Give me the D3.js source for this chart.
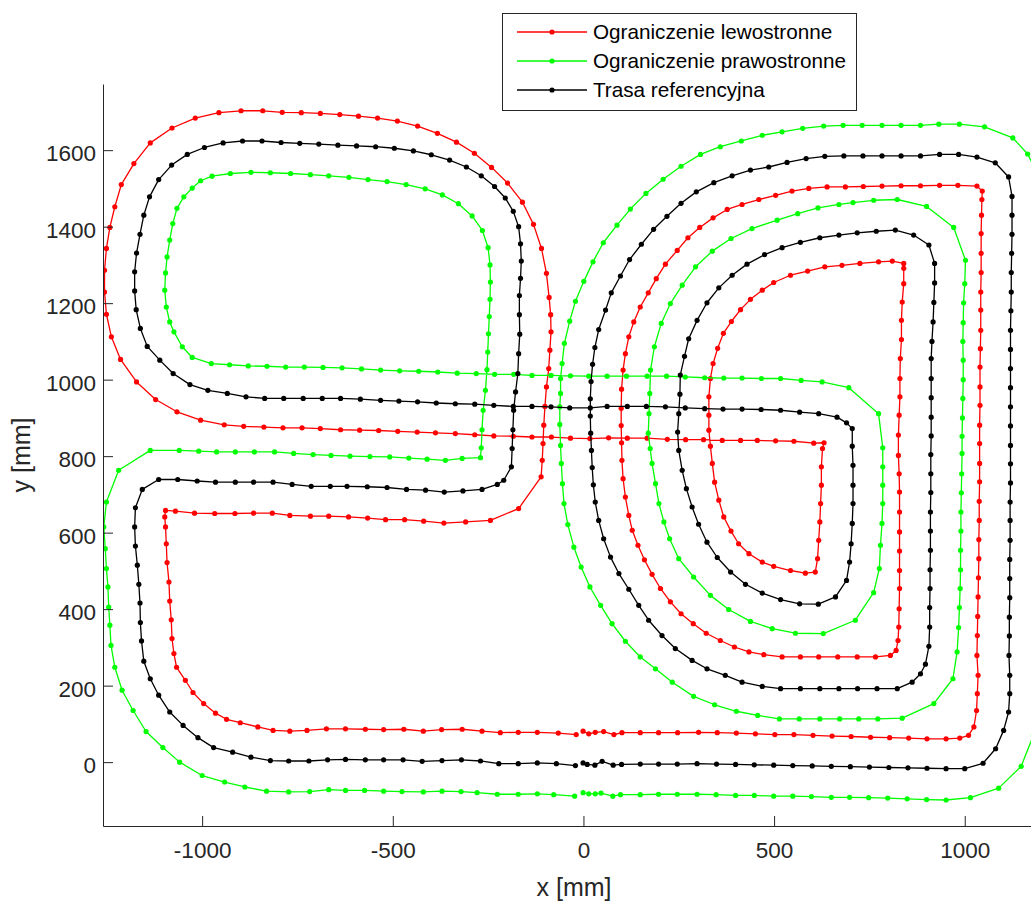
<!DOCTYPE html>
<html>
<head>
<meta charset="utf-8">
<script src="https://cdn.jsdelivr.net/npm/d3@7"></script>
<style>
  body { margin: 0; background: #ffffff; }
  svg { display: block; }
</style>
</head>
<body>
<svg id="chart" width="1031" height="902"></svg>
<script>
// Series labels and colours (legend order = drawing order)
const seriesNames = ["Ograniczenie lewostronne", "Ograniczenie prawostronne", "Trasa referencyjna"];
const seriesColors = ["#ff0000", "#00ff00", "#000000"];

// Left track boundary [x mm, y mm]
const leftBound = [
  [-1,81],[14,74],[31,78],[53,80],[80,72],[101,77],[149,77],[197,77],[247,77],[302,78],[351,77],[401,76],[451,74],[502,72],[552,72],[602,70],[652,68],[702,67],[753,65],[803,64],[853,63],[901,61],[951,61],[987,63],[1010,70],[1024,92],[1031,135],[1033,179],[1035,227],[1032,279],[1033,331],[1034,381],[1035,432],[1036,482],[1037,532],[1037,582],[1038,632],[1038,682],[1039,733],[1039,781],[1039,833],[1039,881],[1040,933],[1040,981],[1040,1033],[1041,1081],[1042,1129],[1042,1182],[1042,1229],[1043,1280],[1043,1330],[1043,1382],[1044,1430],[1045,1471],[1046,1493],[1032,1506],[982,1508],[934,1508],[884,1507],[833,1507],[783,1506],[734,1505],[687,1504],[639,1504],[591,1500],[547,1493],[504,1482],[460,1471],[416,1458],[377,1445],[340,1423],[305,1398],[274,1371],[246,1338],[215,1302],[191,1264],[170,1227],[149,1190],[132,1151],[119,1112],[110,1068],[104,1025],[100,975],[99,925],[99,880],[100,835],[101,789],[104,741],[110,693],[119,645],[128,606],[143,567],[160,529],[180,491],[202,454],[228,419],[256,388],[288,362],[322,337],[359,318],[396,301],[434,288],[473,281],[521,275],[569,275],[617,275],[667,275],[718,275],[766,275],[805,279],[820,292],[825,318],[827,353],[828,401],[829,454],[829,501],[829,552],[829,602],[829,654],[829,706],[828,754],[826,802],[826,855],[828,907],[830,955],[830,1003],[831,1055],[834,1105],[834,1155],[836,1203],[840,1251],[840,1291],[840,1304],[810,1310],[774,1308],[725,1304],[678,1299],[633,1295],[588,1284],[543,1273],[499,1254],[469,1234],[438,1210],[412,1183],[388,1152],[367,1121],[352,1082],[340,1042],[333,1003],[329,955],[329,907],[329,868],[333,826],[338,781],[344,732],[355,685],[368,641],[387,604],[407,571],[434,545],[469,523],[499,512],[543,501],[582,494],[608,497],[614,532],[617,580],[620,628],[622,676],[624,724],[624,772],[627,820],[631,835],[604,834],[552,839],[504,840],[456,841],[412,841],[364,841],[315,843],[268,843],[220,844],[167,847],[115,847],[66,848],[17,846],[-34,847],[-84,850],[-135,850],[-184,852],[-235,853],[-285,856],[-336,859],[-388,861],[-436,863],[-487,865],[-537,867],[-587,868],[-637,869],[-690,872],[-738,874],[-788,874],[-838,876],[-891,878],[-942,882],[-1004,894],[-1066,916],[-1122,948],[-1172,994],[-1214,1053],[-1238,1112],[-1251,1171],[-1256,1229],[-1256,1286],[-1251,1343],[-1242,1398],[-1229,1452],[-1212,1510],[-1179,1565],[-1136,1619],[-1079,1658],[-1018,1684],[-956,1698],[-898,1703],[-841,1703],[-790,1699],[-740,1698],[-690,1696],[-639,1693],[-590,1689],[-540,1684],[-488,1676],[-435,1663],[-383,1644],[-333,1621],[-286,1592],[-241,1555],[-199,1514],[-160,1464],[-131,1406],[-110,1343],[-97,1278],[-90,1215],[-86,1170],[-85,1125],[-88,1077],[-91,1029],[-97,981],[-101,930],[-104,881],[-106,833],[-108,789],[-111,746],[-170,663],[-244,632],[-309,628],[-366,625],[-419,630],[-469,634],[-519,634],[-566,638],[-616,641],[-668,643],[-716,643],[-770,645],[-816,651],[-865,651],[-914,650],[-967,650],[-1020,651],[-1070,656],[-1096,658],[-1098,641],[-1096,615],[-1094,571],[-1092,522],[-1087,471],[-1085,421],[-1081,372],[-1079,323],[-1074,284],[-1067,248],[-1044,214],[-1024,182],[-996,153],[-965,128],[-936,112],[-900,103],[-854,92],[-814,83],[-770,81],[-725,83],[-674,87],[-624,87],[-572,86],[-524,85],[-471,86],[-420,81],[-372,85],[-318,86],[-266,81],[-218,77],[-171,78],[-121,78],[-66,76],[-19,72]
];

// Right track boundary [x mm, y mm]
const rightBound = [
  [-1,-80],[14,-83],[31,-83],[46,-81],[77,-89],[97,-85],[149,-85],[197,-84],[246,-84],[298,-84],[348,-85],[399,-87],[448,-87],[499,-89],[549,-89],[598,-90],[650,-92],[698,-92],[748,-93],[798,-94],[849,-96],[900,-98],[951,-99],[1015,-93],[1089,-68],[1148,-11],[1180,70],[1200,150],[1205,250],[1207,400],[1208,600],[1208,800],[1208,1000],[1208,1200],[1207,1400],[1195,1530],[1165,1590],[1126,1632],[1052,1661],[986,1668],[932,1668],[884,1665],[833,1665],[783,1665],[731,1665],[681,1665],[630,1663],[575,1657],[521,1648],[469,1639],[414,1624],[359,1609],[307,1589],[256,1558],[209,1524],[164,1487],[123,1446],[88,1404],[52,1358],[25,1308],[1,1257],[-21,1205],[-36,1153],[-50,1095],[-56,1042],[-60,1003],[-60,964],[-62,929],[-62,883],[-60,828],[-58,781],[-55,728],[-51,676],[-41,621],[-25,562],[-6,510],[17,458],[45,410],[75,362],[110,316],[149,275],[189,244],[233,209],[289,172],[344,150],[401,133],[457,122],[514,113],[566,113],[620,113],[672,113],[722,113],[772,113],[836,115],[919,153],[969,218],[980,288],[984,352],[986,404],[988,454],[989,503],[989,554],[990,604],[990,654],[991,704],[992,754],[993,807],[993,852],[994,900],[995,951],[996,1000],[996,1051],[995,1100],[996,1149],[997,1201],[1000,1251],[1002,1312],[971,1398],[900,1453],[823,1471],[761,1469],[707,1463],[670,1458],[615,1449],[562,1434],[508,1417],[442,1395],[387,1369],[338,1336],[294,1295],[259,1247],[228,1199],[204,1147],[186,1086],[176,1025],[174,964],[172,911],[170,860],[175,820],[180,781],[189,728],[198,676],[211,628],[226,584],[250,532],[289,484],[333,436],[381,399],[438,368],[495,349],[556,337],[629,336],[713,371],[761,443],[776,506],[779,567],[783,624],[785,676],[785,724],[785,772],[785,822],[774,911],[696,979],[626,994],[571,998],[517,1003],[467,1003],[416,1004],[368,1004],[318,1005],[267,1007],[218,1009],[167,1009],[113,1009],[62,1009],[14,1009],[-34,1010],[-85,1011],[-135,1011],[-183,1014],[-233,1014],[-281,1016],[-331,1017],[-382,1020],[-432,1022],[-482,1023],[-532,1025],[-582,1028],[-633,1031],[-683,1032],[-732,1033],[-781,1033],[-830,1035],[-879,1036],[-928,1039],[-976,1042],[-1026,1058],[-1052,1086],[-1074,1125],[-1085,1151],[-1094,1190],[-1098,1234],[-1096,1279],[-1092,1321],[-1085,1365],[-1077,1408],[-1066,1448],[-1048,1478],[-1026,1501],[-1004,1520],[-974,1532],[-926,1539],[-872,1542],[-821,1541],[-768,1539],[-716,1536],[-668,1533],[-615,1529],[-565,1523],[-515,1518],[-465,1510],[-415,1499],[-370,1483],[-328,1460],[-292,1428],[-265,1390],[-250,1345],[-245,1300],[-244,1255],[-245,1210],[-247,1165],[-249,1120],[-251,1072],[-253,1026],[-257,972],[-263,920],[-266,869],[-268,822],[-270,796],[-318,794],[-362,789],[-410,792],[-458,795],[-508,798],[-560,799],[-612,800],[-662,802],[-709,804],[-760,807],[-810,811],[-863,811],[-913,811],[-962,811],[-1009,813],[-1060,815],[-1136,815],[-1219,763],[-1251,680],[-1258,615],[-1254,558],[-1251,506],[-1247,458],[-1245,405],[-1242,358],[-1239,305],[-1229,248],[-1210,188],[-1181,135],[-1147,80],[-1103,38],[-1059,0],[-1000,-35],[-941,-52],[-888,-65],[-831,-76],[-773,-78],[-718,-77],[-668,-72],[-624,-74],[-574,-74],[-524,-76],[-476,-77],[-420,-78],[-371,-76],[-321,-77],[-279,-80],[-226,-84],[-171,-84],[-121,-83],[-78,-85],[-23,-89]
];

// Reference path [x mm, y mm]
const refPath = [
  [-1,-2],[10,-6],[30,-8],[49,2],[78,-8],[100,-6],[149,-5],[197,-5],[246,-5],[298,-4],[349,-5],[399,-6],[448,-7],[499,-8],[549,-9],[600,-10],[650,-11],[700,-12],[750,-13],[801,-14],[851,-15],[901,-16],[951,-17],[1000,-17],[1048,-3],[1081,35],[1102,83],[1115,131],[1118,179],[1118,227],[1116,279],[1117,330],[1117,379],[1118,430],[1118,480],[1118,530],[1119,580],[1119,632],[1119,680],[1120,730],[1120,780],[1120,828],[1120,879],[1120,929],[1120,979],[1120,1029],[1120,1079],[1120,1129],[1121,1180],[1122,1229],[1122,1280],[1123,1330],[1124,1380],[1124,1430],[1124,1479],[1115,1530],[1080,1567],[1032,1582],[984,1589],[934,1589],[884,1585],[833,1585],[783,1585],[733,1585],[683,1585],[633,1584],[584,1578],[534,1568],[486,1556],[438,1548],[390,1533],[342,1515],[296,1491],[256,1461],[219,1427],[184,1393],[152,1354],[121,1314],[97,1271],[73,1227],[58,1182],[40,1131],[30,1084],[24,1040],[20,995],[18,950],[18,905],[19,860],[21,815],[23,770],[26,725],[31,680],[40,632],[53,584],[71,536],[93,493],[119,452],[145,410],[171,371],[206,331],[241,297],[285,266],[324,244],[372,227],[416,209],[469,198],[517,192],[569,192],[620,192],[670,192],[719,192],[770,192],[823,192],[862,209],[884,231],[897,256],[906,303],[908,353],[908,404],[909,454],[909,503],[910,554],[910,604],[910,654],[911,705],[911,754],[911,804],[912,853],[912,902],[912,953],[912,1003],[912,1055],[914,1100],[917,1151],[919,1202],[921,1253],[921,1304],[906,1352],[866,1378],[818,1391],[768,1388],[718,1384],[670,1378],[620,1371],[569,1359],[521,1345],[475,1327],[429,1302],[390,1273],[355,1240],[324,1201],[298,1155],[276,1107],[265,1061],[254,1012],[253,962],[250,911],[247,863],[250,815],[259,763],[270,715],[285,667],[302,622],[324,575],[351,535],[386,497],[425,465],[469,442],[517,425],[567,414],[616,413],[661,432],[690,475],[698,523],[702,571],[705,624],[707,676],[707,724],[707,776],[705,826],[705,872],[690,887],[665,902],[617,911],[567,915],[517,920],[466,922],[416,923],[366,923],[318,924],[267,926],[215,929],[165,930],[115,930],[62,930],[18,926],[-36,926],[-85,929],[-135,930],[-184,930],[-235,933],[-285,936],[-336,937],[-386,939],[-435,942],[-484,944],[-532,946],[-585,949],[-637,951],[-685,951],[-735,951],[-786,951],[-836,951],[-885,955],[-934,964],[-985,972],[-1032,987],[-1076,1016],[-1111,1051],[-1144,1087],[-1162,1134],[-1173,1183],[-1177,1232],[-1177,1282],[-1172,1331],[-1163,1380],[-1153,1430],[-1138,1478],[-1114,1523],[-1080,1561],[-1039,1589],[-994,1607],[-945,1619],[-894,1624],[-843,1624],[-793,1620],[-744,1618],[-694,1616],[-644,1613],[-595,1611],[-545,1609],[-496,1605],[-446,1598],[-399,1588],[-351,1574],[-307,1556],[-268,1533],[-233,1505],[-205,1475],[-184,1440],[-170,1400],[-165,1355],[-163,1310],[-165,1265],[-168,1220],[-168,1170],[-167,1119],[-170,1068],[-172,1016],[-178,968],[-183,920],[-185,869],[-187,820],[-189,772],[-209,737],[-226,726],[-266,713],[-316,709],[-365,706],[-414,711],[-464,713],[-515,718],[-567,720],[-620,721],[-664,721],[-714,721],[-764,726],[-814,732],[-865,732],[-913,732],[-965,732],[-1013,735],[-1064,739],[-1114,739],[-1157,713],[-1175,665],[-1177,615],[-1175,565],[-1170,515],[-1166,465],[-1163,416],[-1162,365],[-1159,317],[-1153,264],[-1136,218],[-1114,175],[-1085,131],[-1050,96],[-1011,64],[-970,38],[-920,26],[-872,13],[-821,4],[-773,3],[-720,3],[-671,6],[-624,7],[-572,6],[-524,6],[-473,6],[-423,2],[-371,4],[-320,6],[-270,3],[-222,-4],[-171,-4],[-121,-2],[-71,-4],[-21,-9]
];

// Axis limits and ticks
const xLimits = [-1260, 1200];
const yLimits = [-167, 1773];
const xTicks = [-1000, -500, 0, 500, 1000];
const yTicks = [0, 200, 400, 600, 800, 1000, 1200, 1400, 1600];
const xLabel = "x [mm]";
const yLabel = "y [mm]";

const FONT = "'Liberation Sans', Arial, Helvetica, sans-serif";
const AXIS_COLOR = "#262626";
const LINE_W = 1.3;
const DOT_R = 2.6;

const svg = d3.select("#chart");
const plot = { left: 103, right: 1041, top: 84, bottom: 826 };

const x = d3.scaleLinear().domain(xLimits).range([plot.left, plot.right]);
const y = d3.scaleLinear().domain(yLimits).range([plot.bottom, plot.top]);

svg.append("defs").append("clipPath").attr("id", "plot-clip")
  .append("rect")
  .attr("x", plot.left).attr("y", plot.top)
  .attr("width", plot.right - plot.left).attr("height", plot.bottom - plot.top);

// Track lines with dot markers
const series = [leftBound, rightBound, refPath];
const line = d3.line().x(d => x(d[0])).y(d => y(d[1]));
const dataLayer = svg.append("g").attr("clip-path", "url(#plot-clip)");

series.forEach((pts, i) => {
  const g = dataLayer.append("g");
  g.append("path")
    .datum(pts)
    .attr("d", line)
    .attr("fill", "none")
    .attr("stroke", seriesColors[i])
    .attr("stroke-width", LINE_W)
    .attr("stroke-linejoin", "round");
  g.selectAll("circle")
    .data(pts)
    .join("circle")
    .attr("cx", d => x(d[0]))
    .attr("cy", d => y(d[1]))
    .attr("r", DOT_R)
    .attr("fill", seriesColors[i]);
});

// Axes (ticks pointing inwards, plain integer labels)
const plainFormat = d => String(d);
const xAxis = svg.append("g")
  .attr("transform", `translate(0,${plot.bottom})`)
  .call(d3.axisBottom(x).tickValues(xTicks).tickFormat(plainFormat)
    .tickSize(-10).tickSizeOuter(0).tickPadding(16.5));
const yAxis = svg.append("g")
  .attr("transform", `translate(${plot.left},0)`)
  .call(d3.axisLeft(y).tickValues(yTicks).tickFormat(plainFormat)
    .tickSize(-10).tickSizeOuter(0).tickPadding(7));

[xAxis, yAxis].forEach(ax => {
  ax.select(".domain").attr("stroke", AXIS_COLOR).attr("stroke-width", 1);
  ax.selectAll(".tick line").attr("stroke", AXIS_COLOR).attr("stroke-width", 1);
  ax.selectAll(".tick text")
    .attr("fill", AXIS_COLOR)
    .style("font-family", FONT)
    .style("font-size", "22.5px");
});
yAxis.selectAll(".tick text").attr("dy", "0.47em");

// Axis titles
svg.append("text")
  .attr("x", 574).attr("y", 896)
  .attr("text-anchor", "middle")
  .attr("fill", AXIS_COLOR)
  .style("font-family", FONT).style("font-size", "25px")
  .text(xLabel);
svg.append("text")
  .attr("transform", "translate(30,455) rotate(-90)")
  .attr("text-anchor", "middle")
  .attr("fill", AXIS_COLOR)
  .style("font-family", FONT).style("font-size", "25px")
  .text(yLabel);

// Legend
const legend = svg.append("g");
legend.append("rect")
  .attr("x", 502.5).attr("y", 13.5)
  .attr("width", 354).attr("height", 97)
  .attr("fill", "#ffffff")
  .attr("stroke", AXIS_COLOR)
  .attr("stroke-width", 1);
seriesNames.forEach((name, i) => {
  const ly = 32 + i * 29;
  legend.append("line")
    .attr("x1", 517).attr("x2", 587)
    .attr("y1", ly).attr("y2", ly)
    .attr("stroke", seriesColors[i]).attr("stroke-width", LINE_W);
  legend.append("circle")
    .attr("cx", 552).attr("cy", ly).attr("r", DOT_R)
    .attr("fill", seriesColors[i]);
  legend.append("text")
    .attr("x", 593).attr("y", ly)
    .attr("dy", "0.36em")
    .attr("fill", "#000000")
    .style("font-family", FONT).style("font-size", "20.7px")
    .text(name);
});
</script>
</body>
</html>
